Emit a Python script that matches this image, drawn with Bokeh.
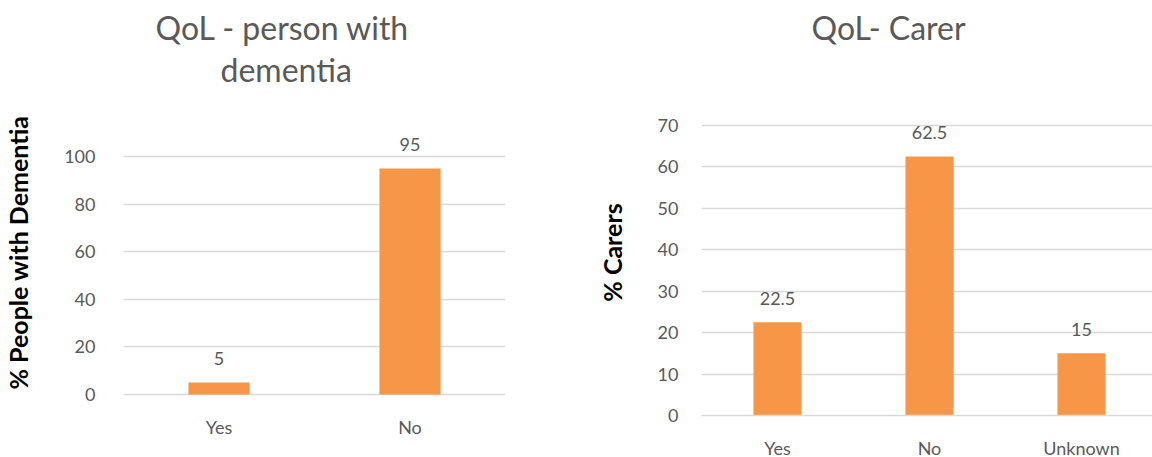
from bokeh.plotting import figure
from bokeh.models import ColumnDataSource, FixedTicker, Title, Range1d, FactorRange
from bokeh.layouts import row
from bokeh.embed import file_html
from bokeh.resources import INLINE
from bokeh.core.properties import value

# ---- data ----
pwd_categories = ["Yes", "No"]
pwd_values = [5, 95]
pwd_ticks = [0, 20, 40, 60, 80, 100]

carer_categories = ["Yes", "No", "Unknown"]
carer_values = [22.5, 62.5, 15]
carer_ticks = [0, 10, 20, 30, 40, 50, 60, 70]

GRAY = "#595959"
GRID = "#d9d9d9"
BAR = "#F79646"
FONT = "Lato"


def make_chart(cats, vals, ticks, ylabel, titles, width, frame_w, border_l, border_r,
               y_start, y_end, bar_w, tick_standoff, x_standoff, show_axis_line):
    src = ColumnDataSource(dict(cat=cats, val=vals, lab=[f"{v:g}" for v in vals]))
    p = figure(x_range=FactorRange(*cats, range_padding=0), y_range=Range1d(y_start, y_end),
               width=width, height=457, frame_width=frame_w, frame_height=326,
               min_border_left=border_l, min_border_right=border_r,
               min_border_top=89, min_border_bottom=42,
               output_backend="svg", toolbar_location=None, title=None)
    p.outline_line_color = None
    p.background_fill_color = "white"
    p.border_fill_color = "white"

    # grid
    p.xgrid.grid_line_color = None
    p.ygrid.grid_line_color = GRID
    p.ygrid.grid_line_width = 1.5
    p.yaxis.ticker = FixedTicker(ticks=ticks)

    p.vbar(x="cat", top="val", width=bar_w, source=src, fill_color=BAR, line_color=None)
    p.text(x="cat", y="val", text="lab", source=src, text_align="center",
           text_baseline="alphabetic", y_offset=-24, text_font=value(FONT),
           text_font_size="18px", text_color=GRAY)

    # y axis
    ya = p.yaxis[0]
    ya.axis_line_color = None
    ya.major_tick_line_color = None
    ya.minor_tick_line_color = None
    ya.major_label_standoff = tick_standoff
    ya.major_label_text_font = FONT
    ya.major_label_text_font_size = "18px"
    ya.major_label_text_color = GRAY
    ya.axis_label = ylabel
    ya.axis_label_text_font = FONT
    ya.axis_label_text_font_style = "bold"
    ya.axis_label_text_font_size = "25px"
    ya.axis_label_text_color = "black"
    ya.axis_label_standoff = 28

    # x axis
    xa = p.xaxis[0]
    xa.axis_line_color = GRID if show_axis_line else None
    xa.axis_line_width = 1.5
    xa.major_tick_line_color = None
    xa.minor_tick_line_color = None
    xa.major_label_standoff = x_standoff
    xa.major_label_text_font = FONT
    xa.major_label_text_font_size = "18px"
    xa.major_label_text_color = GRAY

    # titles (innermost first)
    for text, off in titles:
        p.add_layout(Title(text=text, align="left", offset=off, standoff=1,
                           text_font=FONT, text_font_size="32px",
                           text_font_style="normal", text_color=GRAY), "above")
    return p


p1 = make_chart(pwd_categories, pwd_values, pwd_ticks, "% People with Dementia",
                [("dementia", 97), ("QoL - person with", 32)],
                590, 382, 120, 88, -8.82, 128.2, 0.32, 22, -6, False)
p2 = make_chart(carer_categories, carer_values, carer_ticks, "% Carers",
                [(" ", 0), ("QoL- Carer", 110)],
                562, 456, 106, 0, 0, 78.7, 0.316, 17, 15, True)

layout = row(p1, p2, spacing=0)
open("out.html", "w").write(file_html(layout, INLINE))
